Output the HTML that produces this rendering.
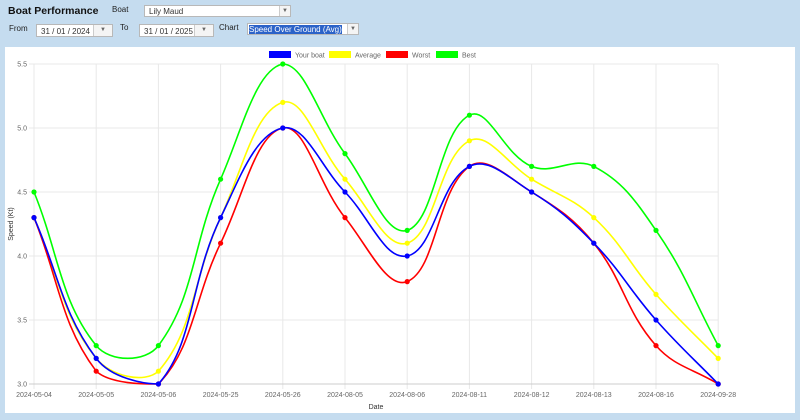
<!DOCTYPE html>
<html><head><meta charset="utf-8"><style>
body{margin:0;width:800px;height:420px;background:#c5dcef;font-family:"Liberation Sans",sans-serif;position:relative;overflow:hidden}
.a{position:absolute}
.sel{position:absolute;background:#fff;border:1px solid #b8b8b8;font-size:8px;color:#333;box-sizing:border-box;padding:2px 4px}
.btn{position:absolute;right:0;top:0;bottom:0;width:10px;border-left:1px solid #ccc;font-size:6px;color:#666;text-align:center;line-height:11px;background:#f4f4f4}
.lbl{position:absolute;font-size:8px;color:#222}
</style></head><body>
<div class="a" style="left:8px;top:5px;font-size:10.5px;font-weight:bold;color:#111">Boat Performance</div>
<div class="lbl" style="left:112px;top:5px">Boat</div>
<div class="sel" style="left:144px;top:5px;width:147px;height:12px;padding-top:1px">Lily Maud<div class="btn">▼</div></div>
<div class="lbl" style="left:9px;top:24px">From</div>
<div class="sel" style="left:36px;top:24px;width:77px;height:13px">31 / 01 / 2024<div class="btn" style="width:18px">▼</div></div>
<div class="lbl" style="left:120px;top:23px">To</div>
<div class="sel" style="left:139px;top:24px;width:75px;height:13px">31 / 01 / 2025<div class="btn" style="width:18px">▼</div></div>
<div class="lbl" style="left:219px;top:23px">Chart</div>
<div class="sel" style="left:247px;top:23px;width:112px;height:12px;padding:1px 1px"><span style="background:#2b62c8;color:#fff">Speed Over Ground (Avg)</span><div class="btn">▼</div></div>
<div class="a" style="left:5px;top:47px;width:790px;height:366px;background:#fff"></div>
<svg class="a" style="left:0;top:0" width="800" height="420" id="s"></svg>
<script>
var X=[],i;for(i=0;i<12;i++)X.push(34+i*62.2);
function Y(v){return 64+(5.5-v)*128}
var dates=["2024-05-04","2024-05-05","2024-05-06","2024-05-25","2024-05-26","2024-08-05","2024-08-06","2024-08-11","2024-08-12","2024-08-13","2024-08-16","2024-09-28"];
var S=[["#00ff00",[4.5,3.3,3.3,4.6,5.5,4.8,4.2,5.1,4.7,4.7,4.2,3.3]],
["#ffff00",[4.3,3.2,3.1,4.3,5.2,4.6,4.1,4.9,4.6,4.3,3.7,3.2]],
["#ff0000",[4.3,3.1,3.0,4.1,5.0,4.3,3.8,4.7,4.5,4.1,3.3,3.0]],
["#0000ff",[4.3,3.2,3.0,4.3,5.0,4.5,4.0,4.7,4.5,4.1,3.5,3.0]]];
var h='';
for(i=0;i<12;i++){h+='<line x1="'+X[i]+'" y1="64" x2="'+X[i]+'" y2="389" stroke="#e8e8e8"/>';
h+='<text x="'+X[i]+'" y="397" font-size="7" fill="#666" text-anchor="middle">'+dates[i]+'</text>';}
for(var v=3;v<=5.51;v+=0.5){h+='<line x1="29" y1="'+Y(v)+'" x2="718" y2="'+Y(v)+'" stroke="'+(v==3?'#ccc':'#e8e8e8')+'"/><text x="27" y="'+(Y(v)+2.5)+'" font-size="7" fill="#666" text-anchor="end">'+v.toFixed(1)+'</text>';}
h+='<text x="376" y="409" font-size="7" fill="#333" text-anchor="middle">Date</text>';
h+='<text transform="translate(13,224) rotate(-90)" font-size="7" fill="#333" text-anchor="middle">Speed (Kt)</text>';
var L=[["#0000ff","Your boat",269],["#ffff00","Average",329],["#ff0000","Worst",386],["#00ff00","Best",436]];
L.forEach(function(l){h+='<rect x="'+l[2]+'" y="51" width="22" height="7" fill="'+l[0]+'"/><text x="'+(l[2]+26)+'" y="57.5" font-size="7" fill="#666">'+l[1]+'</text>';});
var YMAX=Y(3.0),YMIN=Y(5.5);
function cl(y){return Math.max(YMIN,Math.min(YMAX,y))}
S.forEach(function(s){var p=s[1].map(function(v,k){return[X[k],Y(v)]});var t=0.4,cp=[];
for(var k=0;k<p.length;k++){var a=p[Math.max(k-1,0)],b=p[k],c=p[Math.min(k+1,p.length-1)];
var d01=Math.hypot(b[0]-a[0],b[1]-a[1]),d12=Math.hypot(c[0]-b[0],c[1]-b[1]);var fa=d01/(d01+d12)||0,fb=d12/(d01+d12)||0;fa*=t;fb*=t;
cp.push([[b[0]-fa*(c[0]-a[0]),cl(b[1]-fa*(c[1]-a[1]))],[b[0]+fb*(c[0]-a[0]),cl(b[1]+fb*(c[1]-a[1]))]]);}
var d='M'+p[0];for(k=1;k<p.length;k++)d+=' C'+cp[k-1][1]+' '+cp[k][0]+' '+p[k];
h+='<path d="'+d+'" fill="none" stroke="'+s[0]+'" stroke-width="1.6"/>';
p.forEach(function(q){h+='<circle cx="'+q[0]+'" cy="'+q[1]+'" r="2.6" fill="'+s[0]+'"/>';});});
document.getElementById('s').innerHTML=h;
</script>
</body></html>
